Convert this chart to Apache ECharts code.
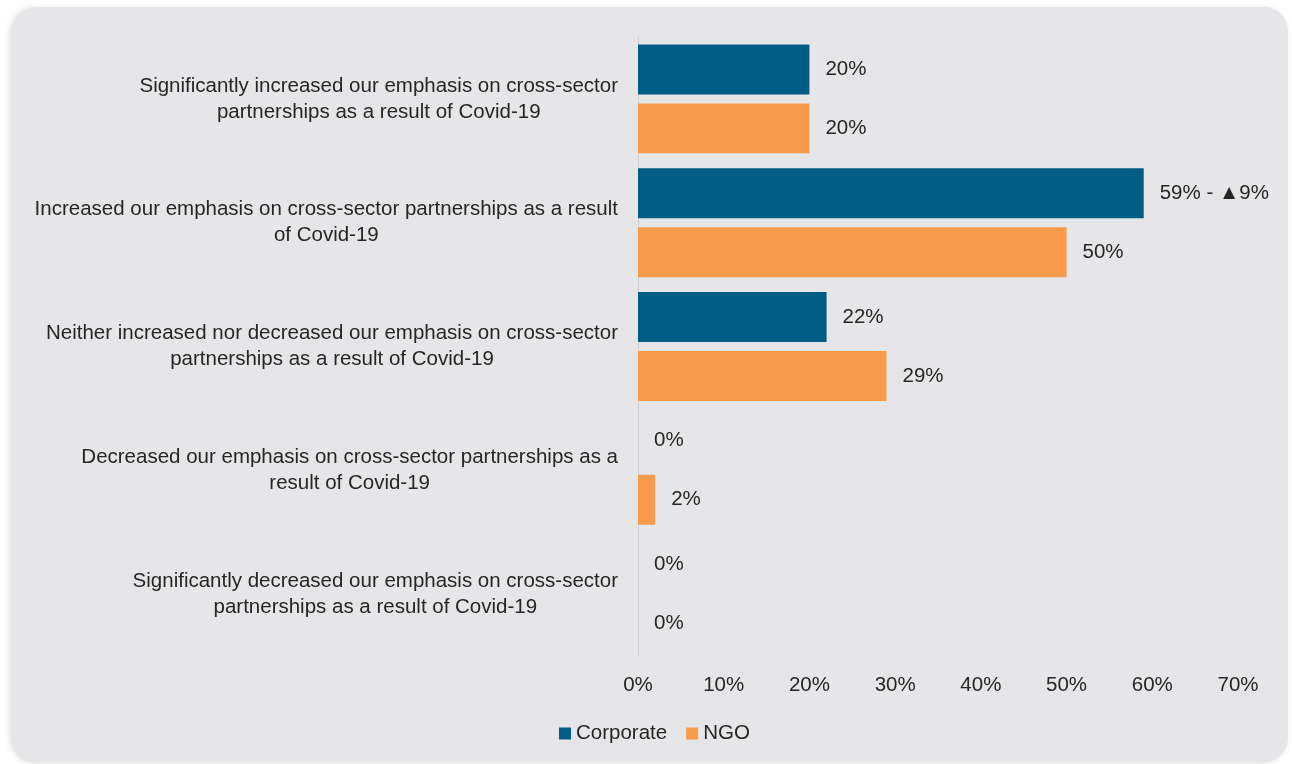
<!DOCTYPE html>
<html>
<head>
<meta charset="utf-8">
<script src="https://cdn.jsdelivr.net/npm/echarts@6/dist/echarts.min.js"></script>
<style>
  html, body { margin: 0; padding: 0; background: #ffffff; width: 1292px; height: 764px; overflow: hidden; }
  #panel {
    position: absolute; left: 12px; top: 7px; width: 1276px; height: 755px;
    background: #e6e6e8; border-radius: 24px;
    box-shadow: -2px 1px 6px rgba(0, 0, 0, 0.13);
  }
  #chart { position: absolute; left: 0; top: 0; width: 1292px; height: 764px; }
</style>
</head>
<body>
<div id="panel"></div>
<div id="chart"></div>
<script>
// Survey responses: change in emphasis on cross-sector partnerships due to Covid-19
const categories = [
  'Significantly increased our emphasis on cross-sector\npartnerships as a result of Covid-19',
  'Increased our emphasis on cross-sector partnerships as a result\nof Covid-19',
  'Neither increased nor decreased our emphasis on cross-sector\npartnerships as a result of Covid-19',
  'Decreased our emphasis on cross-sector partnerships as a\nresult of Covid-19',
  'Significantly decreased our emphasis on cross-sector\npartnerships as a result of Covid-19'
];
const corporateValues = [20, 59, 22, 0, 0];
const ngoValues = [20, 50, 29, 2, 0];
// Year-on-year change shown next to a value ('' = none)
const corporateChange = ['', '▲9%', '', '', ''];
const xTicks = [0, 10, 20, 30, 40, 50, 60, 70];

const textColor = '#262626';
const fontFamily = '"Liberation Sans", Arial, sans-serif';
const fontSize = 20.5;

const chart = echarts.init(document.getElementById('chart'), null, { renderer: 'canvas' });

const valueLabel = {
  show: true,
  position: 'right',
  distance: 16,
  fontSize: fontSize,
  color: textColor,
  fontFamily: fontFamily
};

chart.setOption({
  backgroundColor: 'transparent',
  textStyle: { fontFamily: fontFamily },
  grid: { left: 638, right: 54, top: 37, bottom: 108, containLabel: false },
  legend: {
    left: 554,
    top: 718,
    icon: 'rect',
    itemWidth: 12,
    itemHeight: 12,
    itemGap: 19,
    textStyle: { fontSize: fontSize, color: textColor, fontFamily: fontFamily },
    data: ['Corporate', 'NGO']
  },
  xAxis: {
    type: 'value',
    min: xTicks[0],
    max: xTicks[xTicks.length - 1],
    interval: 10,
    axisLine: { show: false },
    axisTick: { show: false },
    splitLine: { show: false },
    axisLabel: {
      margin: 19,
      fontSize: fontSize,
      color: textColor,
      fontFamily: fontFamily,
      formatter: '{value}%'
    }
  },
  yAxis: {
    type: 'category',
    inverse: true,
    data: categories,
    axisLine: { show: true, lineStyle: { color: '#cfcfd3', width: 1 } },
    axisTick: { show: false },
    axisLabel: {
      margin: 20,
      align: 'right',
      color: textColor,
      fontSize: fontSize,
      lineHeight: 26,
      fontFamily: fontFamily,
      formatter: function (v) {
        return v.split('\n').map(function (line) { return '{c|' + line + '}'; }).join('\n');
      },
      rich: {
        c: { align: 'center', fontSize: fontSize, lineHeight: 26, color: textColor, fontFamily: fontFamily }
      }
    }
  },
  series: [
    {
      name: 'Corporate',
      type: 'bar',
      barCategoryGap: '12%',
      barGap: '18%',
      itemStyle: { color: '#015d86' },
      label: Object.assign({}, valueLabel, {
        formatter: function (p) {
          const note = corporateChange[p.dataIndex];
          return p.value + '%' + (note ? ' - ' + note : '');
        }
      }),
      data: corporateValues
    },
    {
      name: 'NGO',
      type: 'bar',
      barCategoryGap: '12%',
      barGap: '18%',
      itemStyle: { color: '#f79a4b' },
      label: Object.assign({}, valueLabel, { formatter: '{c}%' }),
      data: ngoValues
    }
  ]
});
</script>
</body>
</html>
